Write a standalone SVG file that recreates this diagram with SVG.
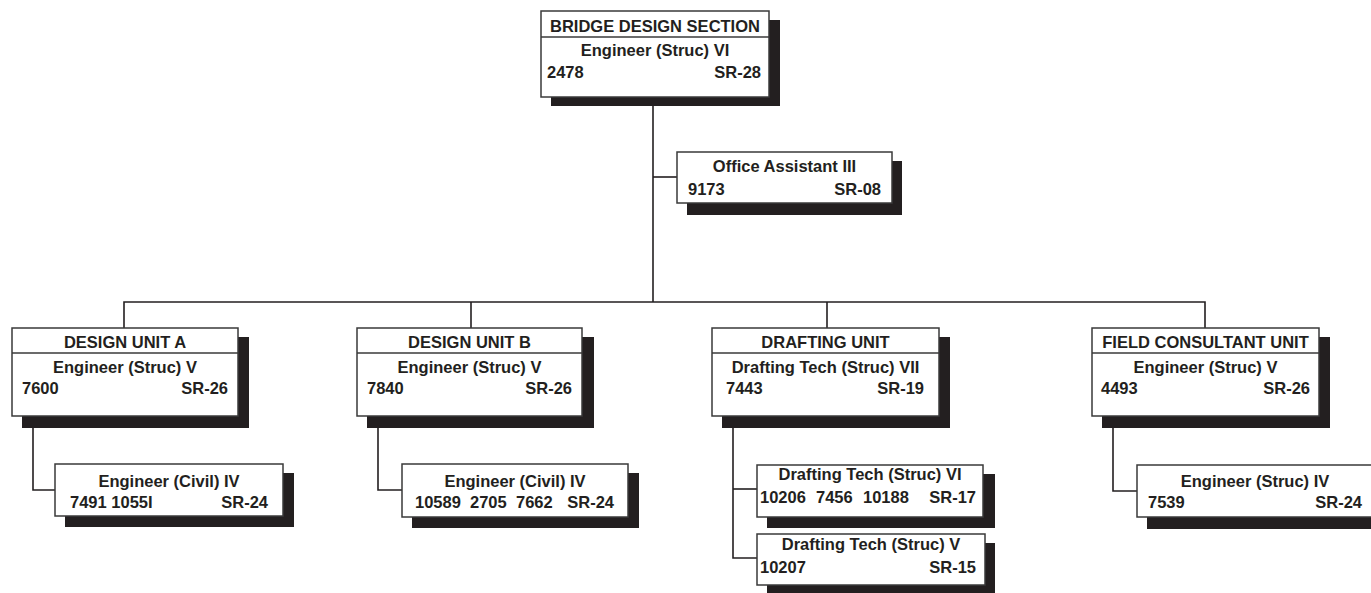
<svg xmlns="http://www.w3.org/2000/svg" width="1371" height="593" viewBox="0 0 1371 593">
<style>
.bg{fill:#ffffff}
.box{fill:#ffffff;stroke:#3a3a3a;stroke-width:1.5}
.sh{fill:#231f20}
.div{stroke:#3a3a3a;stroke-width:1.5}
.con{fill:none;stroke:#231f20;stroke-width:1.6}
text{font-family:"Liberation Sans",Arial,Helvetica,sans-serif;font-weight:bold;font-size:16.5px;fill:#231f20}
.c{text-anchor:middle}
.r{text-anchor:end}
</style>
<rect class="bg" x="0" y="0" width="1371" height="593"/>
<g id="connectors">
<path class="con" d="M653,97 V302"/>
<path class="con" d="M653,177 H677"/>
<path class="con" d="M124,328 V302 H1205 V328"/>
<path class="con" d="M471,302 V328"/>
<path class="con" d="M827,302 V328"/>
<path class="con" d="M33,416 V490 H55"/>
<path class="con" d="M378,416 V490 H402"/>
<path class="con" d="M733,416 V558 H757"/>
<path class="con" d="M733,489 H757"/>
<path class="con" d="M1113,416 V491 H1137"/>
</g>
<g id="bridge-design-section">
<rect class="sh" x="551" y="20" width="229" height="86"/>
<rect class="box" x="541" y="11" width="228" height="86"/>
<line class="div" x1="541" y1="37" x2="769" y2="37"/>
<text class="c" x="655" y="32">BRIDGE DESIGN SECTION</text>
<text class="c" x="655" y="56">Engineer (Struc) VI</text>
<text x="547" y="78">2478</text>
<text class="r" x="761" y="78">SR-28</text>
</g>
<g id="office-assistant">
<rect class="sh" x="687" y="161" width="215" height="54"/>
<rect class="box" x="677" y="152" width="215" height="51"/>
<text class="c" x="784.5" y="172">Office Assistant III</text>
<text x="688" y="195">9173</text>
<text class="r" x="881" y="195">SR-08</text>
</g>
<g id="design-unit-a">
<rect class="sh" x="22" y="337" width="227" height="91"/>
<rect class="box" x="12" y="328" width="226" height="88"/>
<line class="div" x1="12" y1="353" x2="238" y2="353"/>
<text class="c" x="125" y="348">DESIGN UNIT A</text>
<text class="c" x="125" y="373">Engineer (Struc) V</text>
<text x="22" y="394">7600</text>
<text class="r" x="228" y="394">SR-26</text>
</g>
<g id="design-unit-b">
<rect class="sh" x="367" y="337" width="227" height="91"/>
<rect class="box" x="357" y="328" width="225" height="88"/>
<line class="div" x1="357" y1="353" x2="582" y2="353"/>
<text class="c" x="469.5" y="348">DESIGN UNIT B</text>
<text class="c" x="469.5" y="373">Engineer (Struc) V</text>
<text x="367" y="394">7840</text>
<text class="r" x="572" y="394">SR-26</text>
</g>
<g id="drafting-unit">
<rect class="sh" x="722" y="337" width="228" height="91"/>
<rect class="box" x="712" y="328" width="227" height="88"/>
<line class="div" x1="712" y1="353" x2="939" y2="353"/>
<text class="c" x="825.5" y="348">DRAFTING UNIT</text>
<text class="c" x="825.5" y="373">Drafting Tech (Struc) VII</text>
<text x="726" y="394">7443</text>
<text class="r" x="924" y="394">SR-19</text>
</g>
<g id="field-consultant-unit">
<rect class="sh" x="1102" y="337" width="228" height="91"/>
<rect class="box" x="1092" y="328" width="227" height="88"/>
<line class="div" x1="1092" y1="353" x2="1319" y2="353"/>
<text class="c" x="1205.5" y="348">FIELD CONSULTANT UNIT</text>
<text class="c" x="1205.5" y="373">Engineer (Struc) V</text>
<text x="1101" y="394">4493</text>
<text class="r" x="1310" y="394">SR-26</text>
</g>
<g id="engineer-civil-iv-a">
<rect class="sh" x="65" y="473" width="229" height="54"/>
<rect class="box" x="55" y="464" width="228" height="52"/>
<text class="c" x="169" y="487">Engineer (Civil) IV</text>
<text x="70" y="508">7491 1055I</text>
<text class="r" x="268" y="508">SR-24</text>
</g>
<g id="engineer-civil-iv-b">
<rect class="sh" x="412" y="473" width="227" height="55"/>
<rect class="box" x="402" y="464" width="226" height="53"/>
<text class="c" x="515" y="487">Engineer (Civil) IV</text>
<text x="415" y="508">10589</text>
<text x="470" y="508">2705</text>
<text x="516" y="508">7662</text>
<text class="r" x="614" y="508">SR-24</text>
</g>
<g id="drafting-tech-vi">
<rect class="sh" x="767" y="474" width="228" height="54"/>
<rect class="box" x="757" y="465" width="226" height="52"/>
<text class="c" x="870" y="480">Drafting Tech (Struc) VI</text>
<text x="760" y="503">10206</text>
<text x="816" y="503">7456</text>
<text x="863" y="503">10188</text>
<text class="r" x="976" y="503">SR-17</text>
</g>
<g id="drafting-tech-v">
<rect class="sh" x="767" y="543" width="228" height="54"/>
<rect class="box" x="757" y="534" width="228" height="51"/>
<text class="c" x="871" y="550">Drafting Tech (Struc) V</text>
<text x="760" y="573">10207</text>
<text class="r" x="976" y="573">SR-15</text>
</g>
<g id="engineer-struc-iv">
<rect class="sh" x="1147" y="474" width="240" height="55"/>
<rect class="box" x="1137" y="465" width="240" height="52"/>
<text class="c" x="1255" y="487">Engineer (Struc) IV</text>
<text x="1148" y="508">7539</text>
<text class="r" x="1362" y="508">SR-24</text>
</g>
</svg>
